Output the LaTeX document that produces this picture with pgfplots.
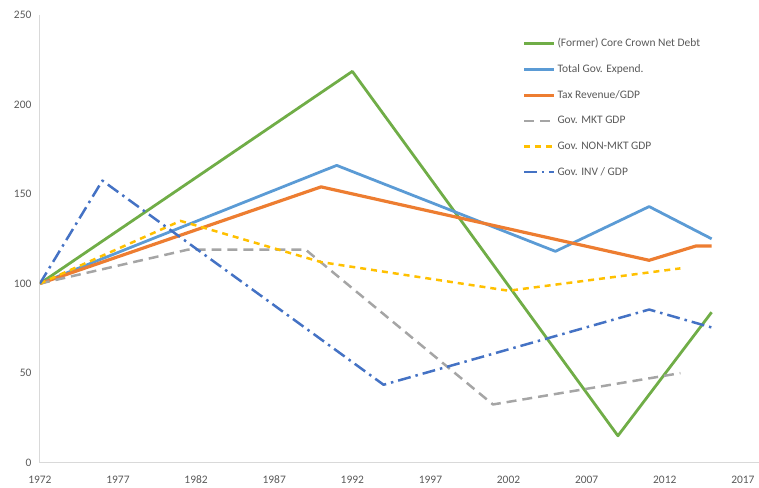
\documentclass[border=0pt]{standalone}
\usepackage{fontspec}
\setmainfont{Carlito}
\usepackage{pgfplots}
\pgfplotsset{compat=1.18}
\definecolor{cgreen}{HTML}{70AD47}
\definecolor{cblue}{HTML}{5B9BD5}
\definecolor{corange}{HTML}{ED7D31}
\definecolor{cgray}{HTML}{A5A5A5}
\definecolor{cyellow}{HTML}{FFC000}
\definecolor{cdblue}{HTML}{4472C4}
\definecolor{ctext}{HTML}{595959}
\definecolor{caxis}{HTML}{D9D9D9}
\begin{document}
\begin{tikzpicture}
\begin{axis}[
  scale only axis,
  width=720.7pt, height=449pt,
  xmin=1972, xmax=2018, ymin=0, ymax=250,
  axis x line=bottom, axis y line=left,
  axis line style={-, draw=caxis, line width=1pt},
  xtick={1972,1977,...,2017},
  ytick={0,50,...,250},
  major tick length=0pt,
  /pgf/number format/assume math mode=true,
  /pgf/number format/1000 sep={},
  tick label style={font=\fontsize{11.5}{13}\selectfont, text=ctext},
  xticklabel style={yshift=-10pt},
  yticklabel style={xshift=-5pt},
  line join=round,
  legend cell align=left,
  legend style={at={(0.667,0.957)}, anchor=north west, draw=none, fill=none,
    font=\fontsize{11.5}{13}\selectfont, text=ctext, row sep=12.5pt,
    /tikz/every even column/.append style={column sep=0pt}},
  legend image code/.code={\draw[#1] (0pt,0pt) -- (30pt,0pt);},
]
\addplot[cgreen, line width=2.8pt] coordinates {(1972,100) (1992,218.5) (2009,15) (2015,84)};
\addlegendentry{(Former) Core Crown Net Debt}
\addplot[cblue, line width=2.8pt] coordinates {(1972,100) (1991,166) (2005,118) (2011,143) (2015,125)};
\addlegendentry{Total Gov. Expend.}
\addplot[corange, line width=3.2pt] coordinates {(1972,100) (1990,154) (2011,113) (2014,121) (2015,121)};
\addlegendentry{Tax Revenue/GDP}
\addplot[cgray, line width=2.5pt, dash pattern=on 10pt off 6pt] coordinates {(1972,100) (1981.5,119) (1989,119) (2001,32.5) (2013,50)};
\addlegendentry{Gov. MKT GDP}
\addplot[cyellow, line width=2.5pt, dash pattern=on 6pt off 5pt] coordinates {(1972,100) (1981,135) (1990,112) (2002,96) (2013,108.5)};
\addlegendentry{Gov. NON-MKT GDP}
\addplot[cdblue, line width=2.5pt, dash pattern=on 13pt off 5pt on 2.5pt off 5pt] coordinates {(1972,100) (1976,157.5) (1994,43.5) (2011,85.5) (2015,75.5)};
\addlegendentry{Gov. INV / GDP}
\end{axis}
\path[use as bounding box] ([xshift=-40pt,yshift=-24pt]current axis.south west) rectangle ++(759pt,488pt);
\end{tikzpicture}
\end{document}
